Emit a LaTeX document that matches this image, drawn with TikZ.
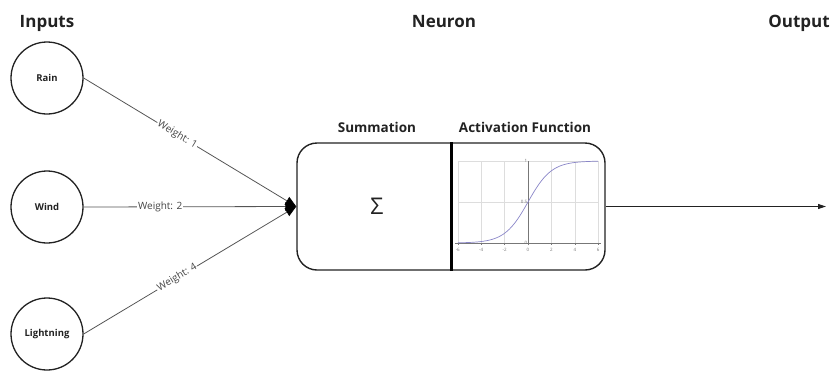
\documentclass[tikz,border=0pt]{standalone}
\usepackage{fontspec}
\setmainfont{Open Sans}
\usetikzlibrary{arrows.meta}
\definecolor{inkdark}{HTML}{222222}
\definecolor{linegray}{HTML}{555555}
\definecolor{gridgray}{HTML}{DDDDDD}
\definecolor{axisgray}{HTML}{777777}
\definecolor{curvecol}{HTML}{8A86C8}
\tikzset{
  title/.style={font=\fontsize{17}{20}\selectfont\bfseries, text=inkdark, anchor=base, inner sep=0pt},
  subtitle/.style={font=\fontsize{13.5}{16}\selectfont\bfseries, text=inkdark, anchor=base, inner sep=0pt},
  inputnode/.style={circle, draw=inkdark, line width=1.3pt, minimum size=72pt, inner sep=0pt,
     font=\fontsize{9.5}{11}\selectfont\bfseries, text=inkdark},
  conn/.style={draw=linegray, line width=0.8pt, -{Triangle[length=11pt,width=9pt,color=black]}},
  wlabel/.style={fill=white, inner sep=1pt, font=\fontsize{10}{12}\selectfont, text=linegray!80!black},
  neuronbox/.style={draw=inkdark, line width=1.4pt, rounded corners=20pt, minimum width=308pt, minimum height=127pt, inner sep=0pt},
  tinylab/.style={font=\fontsize{4.5}{5}\selectfont, text=axisgray, inner sep=0.5pt},
}
\begin{document}
\begin{tikzpicture}[x=1pt,y=-1pt]
\useasboundingbox (0,0) rectangle (834,370);

% titles
\node[title] (tin) at (47,27) {Inputs};
\node[title] (tneu) at (444,27) {Neuron};
\node[title] (tout) at (799,27) {Output};

% inputs
\node[inputnode] (rain) at (47,78) {Rain};
\node[inputnode] (wind) at (47,207) {Wind};
\node[inputnode] (light) at (47,334) {Lightning};

% neuron
\node[neuronbox] (neuron) at (451,206.5) {};
\draw[line width=3pt, black] (neuron.north) -- (neuron.south);
\node[subtitle] (tsum) at (377,132) {Summation};
\node[subtitle] (tact) at (525,132) {Activation Function};
\node[font=\fontsize{23}{25}\selectfont, text=inkdark] (sigma) at (377,206) {Σ};

% connectors
\draw[conn] (rain.east) -- node[wlabel, pos=0.44, sloped] {Weight: 1} (neuron.west);
\draw[conn] (wind.east) -- node[wlabel, pos=0.36] {Weight: 2} (neuron.west);
\draw[conn] (light.east) -- node[wlabel, pos=0.44, sloped] {Weight: 4} (neuron.west);

% output
\coordinate (outend) at (826,206.5);
\draw[draw=inkdark, line width=0.8pt, -{Triangle[length=8pt,width=5pt]}] (neuron.east) -- (outend);

% sigmoid plot
\begin{scope}[shift={(528pt,-243pt)}, x=11.7pt, y=82pt]
  \foreach \g in {-6,-4,-2,2,4,6}
    \draw[gridgray, line width=0.5pt] (\g,0) -- (\g,1);
  \draw[gridgray, line width=0.5pt] (-6,0.5) -- (6,0.5);
  \draw[gridgray, line width=0.5pt] (-6,1) -- (6,1);
  \draw[axisgray, line width=0.6pt] (-6.2,0) -- (6.2,0);
  \draw[axisgray, line width=0.6pt] (0,-0.03) -- (0,1);
  \foreach \g in {-6,-4,-2,0,2,4,6}
    \draw[axisgray, line width=0.4pt] (\g,0) -- (\g,-0.03);
  \foreach \g in {-6,-4,-2,0,2,4,6}
    \node[tinylab, anchor=north] at (\g,-0.05) {\g};
  \node[tinylab, anchor=east] at (0,1) {1};
  \node[tinylab, anchor=east] at (0,0.5) {0.5};
  \node[tinylab, anchor=east] at (0,0) {0};
  \draw[curvecol, line width=0.7pt] plot[domain=-6:6, samples=80, smooth] (\x,{1/(1+exp(-\x))});
\end{scope}
\end{tikzpicture}
\end{document}
